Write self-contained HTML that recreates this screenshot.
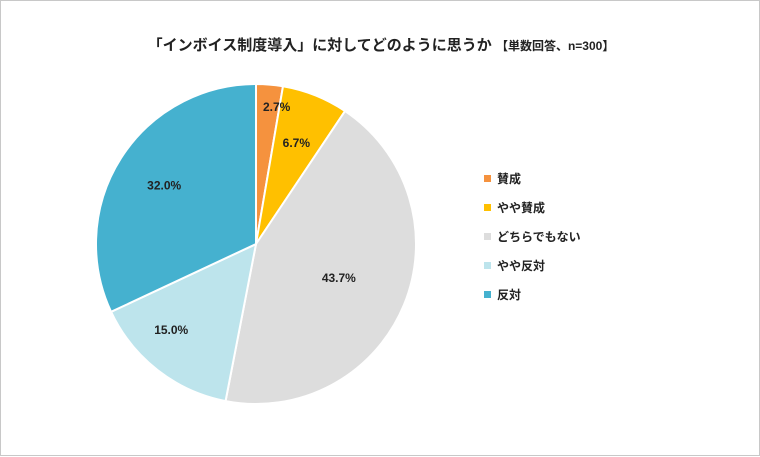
<!DOCTYPE html>
<html><head><meta charset="utf-8"><style>
body{margin:0;background:#fff;}
#wrap{position:relative;width:758px;height:454px;border:1px solid #c8c8c8;background:#fff;font-family:"Liberation Sans","Noto Sans CJK JP",sans-serif;}
#title{position:absolute;left:0;width:760px;top:33px;text-align:center;font-weight:bold;font-size:15px;color:#222;}
#title span{font-size:12px;}
.leg{position:absolute;left:483px;font-size:12px;font-weight:bold;color:#222;}
.leg i{display:inline-block;width:7px;height:7px;margin-right:6px;vertical-align:1px;}
</style></head><body>
<div id="wrap">
<div id="title">「インボイス制度導入」に対してどのように思うか <span>【単数回答、n=300】</span></div>
<svg id="pie" width="760" height="456" style="position:absolute;left:0;top:0"></svg>
<div id="legend"></div>
</div>
<script>
const categories=["賛成","やや賛成","どちらでもない","やや反対","反対"];
const values=[2.7,6.7,43.7,15.0,32.0];
const colors=["#F5923E","#FFC000","#DDDDDD","#BDE4EC","#45B1CF"];
const labelFrac=[0.86,0.68,0.56,0.76,0.68];
const svg=document.getElementById('pie');
const NS="http://www.w3.org/2000/svg";
const cx=255,cy=243,R=160;
const total=values.reduce((a,b)=>a+b,0);
function pt(frac,r){const a=frac*2*Math.PI;return [cx+r*Math.sin(a),cy-r*Math.cos(a)];}
let acc=0;
const labels=[];
values.forEach((v,i)=>{
  const s=acc/total,e=(acc+v)/total;acc+=v;
  const p0=pt(s,R),p1=pt(e,R);
  const path=document.createElementNS(NS,'path');
  path.setAttribute('d',`M${cx},${cy}L${p0[0]},${p0[1]}A${R},${R} 0 ${e-s>0.5?1:0} 1 ${p1[0]},${p1[1]}Z`);
  path.setAttribute('fill',colors[i]);path.setAttribute('stroke','#fff');path.setAttribute('stroke-width','2');
  
  
  svg.appendChild(path);
  const m=(s+e)/2;const lp=pt(m,R*labelFrac[i]);
  const dx=i===0?9:(i===3?-10:0), dy=i===3?-10:0;
  const t=document.createElementNS(NS,'text');
  t.setAttribute('x',lp[0]+dx);t.setAttribute('y',lp[1]+4+dy);t.setAttribute('text-anchor','middle');
  t.setAttribute('font-size','12');t.setAttribute('font-weight','bold');t.setAttribute('fill','#222');
  t.setAttribute('font-family','Liberation Sans, sans-serif');
  t.textContent=v.toFixed(1)+'%';
  
  
  labels.push(t);
});
labels.forEach(t=>svg.appendChild(t));
const leg=document.getElementById('legend');
categories.forEach((c,i)=>{
  const d=document.createElement('div');d.className='leg';d.style.top=(169+i*29)+'px';
  d.innerHTML=`<i style="background:${colors[i]}"></i>${c}`;
  
  
  leg.appendChild(d);
});
</script>
</body></html>
